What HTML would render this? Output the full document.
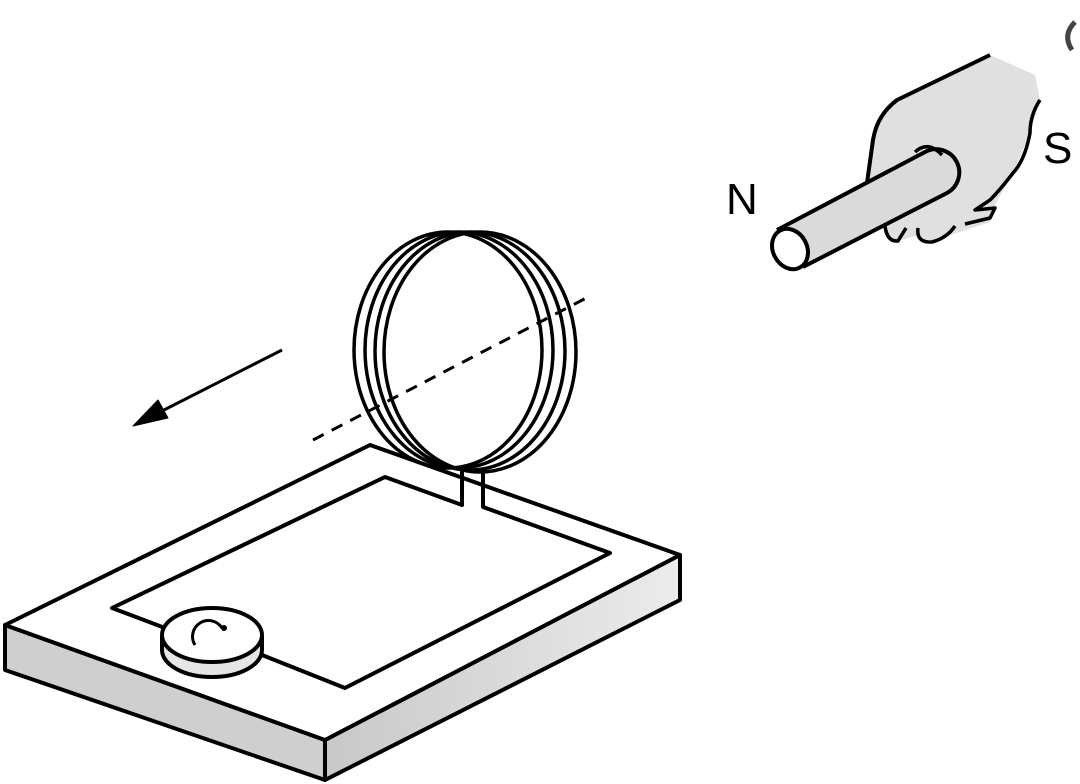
<!DOCTYPE html>
<html><head><style>body{margin:0;background:#fff}svg{display:block}</style></head>
<body>
<svg width="1080" height="784" viewBox="0 0 1080 784" xmlns="http://www.w3.org/2000/svg">
<defs>
<linearGradient id="g" x1="0" y1="0" x2="1" y2="0"><stop offset="0" stop-color="#c8c8c8"/><stop offset="1" stop-color="#ececec"/></linearGradient>
</defs>
<g stroke="#000" stroke-width="4" stroke-linejoin="round" fill="none">
<!-- board -->
<polygon points="5,625 325,740 325,780 5,670" fill="#cfcfcf"/>
<polygon points="325,740 680,555 680,600 325,780" fill="url(#g)"/>
<polygon points="5,625 370,445 680,555 325,740" fill="#fff"/>
<!-- wire -->
<polyline points="462,470 462,505 385,477 112,608 165,628"/>
<polyline points="262,655 345,688 610,553 483,507 483,470"/>
<!-- galvanometer -->
<path d="M162,635 L162,650 A50,27 0 0 0 262,650 L262,635" fill="#e6e6e6"/>
<ellipse cx="212" cy="635" rx="50" ry="27" fill="#fff"/>
<path d="M195,645 A14,14 0 1 1 222,628" stroke-width="3"/>
<circle cx="224" cy="628" r="3" fill="#000" stroke="none"/>
<!-- coil -->
<g stroke-width="3.5">
<ellipse cx="480" cy="352" rx="96" ry="120"/>
<ellipse cx="470" cy="351" rx="95" ry="119"/>
<ellipse cx="459" cy="350" rx="94" ry="118"/>
<ellipse cx="448" cy="350" rx="94" ry="118"/>
</g>
<line x1="313" y1="440" x2="592" y2="295" stroke-width="3" stroke-dasharray="12,9"/>
<!-- arrow -->
<line x1="282" y1="350" x2="160" y2="412" stroke-width="3"/>
<polygon points="133,426 158,400 168,418" fill="#000" stroke-width="1"/>
<!-- hand -->
<path d="M990,55 L897,100 Q875,115 872,140 L867,183 L885,230 L895,242 L915,236 L930,242 L960,232 L990,222 L995,205 L1013,173 L1030,133 L1040,100 L1035,75 Z" fill="#e0e0e0" stroke="none"/>
<path d="M990,55 L897,100 Q877,115 873,140 L867,183"/>
<path d="M1040,100 Q1030,115 1030,133 Q1025,160 1013,173 Q1000,190 990,200 L975,210 L995,208 L990,218 L965,224" stroke-width="3.5"/>
<path d="M885,226 Q887,242 898,241 L906,228 M918,228 Q916,243 932,242 Q947,238 955,226" stroke-width="3.5"/>
<!-- magnet -->
<path d="M777,230 L925,152 A20,20 0 0 1 947,193 L803,267" fill="#dadada"/>
<path d="M915,152 Q928,140 942,155" stroke-width="3.5"/>
<ellipse cx="790" cy="249" rx="17" ry="21" transform="rotate(-28 790 249)" fill="#fff"/>
</g>
<text x="726" y="214" font-family="Liberation Sans, sans-serif" font-size="44" fill="#000">N</text>
<text x="1043" y="163" font-family="Liberation Sans, sans-serif" font-size="44" fill="#000">S</text>
<path d="M1072,50 Q1062,35 1075,22" stroke="#444" stroke-width="5" fill="none"/>
</svg>
</body></html>
